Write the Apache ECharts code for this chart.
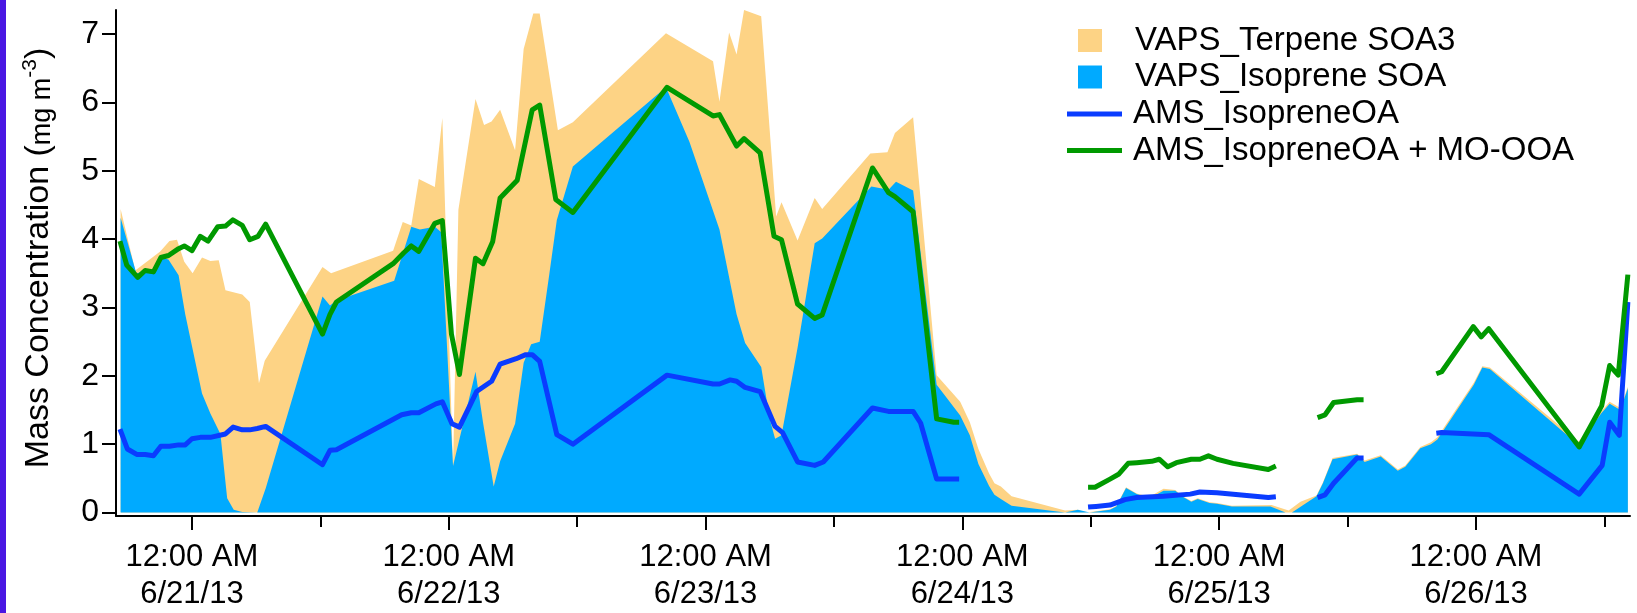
<!DOCTYPE html>
<html><head><meta charset="utf-8">
<script src="https://cdn.jsdelivr.net/npm/echarts@6/dist/echarts.min.js"></script>
<style>html,body{margin:0;padding:0;background:#fff}#chart{width:1637px;height:613px}</style>
</head><body><div id="chart"></div>
<script>
// time: hours since 6/21/13 12:00 AM
const vapsTotalTime = [-6.67,-5.3,-2.97,-2.1,-1.4,-0.72,0.06,0.94,1.72,2.5,3.13,4.7,5.4,6.26,6.8,12.2,13.0,18.8,19.7,20.5,21.2,22.7,23.4,24.4,24.9,26.5,27.3,28.0,28.8,30.2,31.0,31.9,32.5,34.2,35.6,44.3,48.7,49.3,50.2,50.9,51.6,53.2,54.6,55.1,56.6,58.2,58.9,63.4,65.0,65.7,67.4,69.6,71.8,72.7,73.5,74.5,75.0,75.6,76.6,81.6,82.8,83.6,85.8,86.4,87.3,88.3,89.5,90.8,91.9,92.6,93.4,94.0,95.1,95.8,97.2,100.9,102.5,103.6,105.1,105.7,106.6,108.9,109.6,111.1,112.7,113.4,114.8,115.8,116.4,119.8,120.6,121.3,129.6,131.7,132.5,133.5,134.2];
// top of the stacked VAPS areas (Isoprene SOA + Terpene SOA3)
const vapsTotal = [4.44,3.54,3.82,3.97,3.99,3.67,3.5,3.73,3.68,3.69,3.25,3.19,3.08,1.89,2.22,3.59,3.5,3.83,4.25,4.2,4.88,4.76,5.77,0.66,4.43,6.05,5.67,5.72,5.89,5.3,6.78,7.3,7.3,5.59,5.71,7.01,6.6,6.01,7.02,6.7,7.35,7.26,4.33,4.54,3.98,4.6,4.44,5.25,5.27,5.55,5.78,2.01,1.62,1.32,0.93,0.57,0.43,0.38,0.24,0.03,0.04,0.0,0.05,0.1,0.37,0.28,0.23,0.35,0.33,0.24,0.17,0.21,0.15,0.14,0.1,0.11,0.03,0.16,0.25,0.44,0.8,0.86,0.76,0.84,0.63,0.69,0.96,1.03,1.1,1.9,2.14,2.12,1.04,1.48,1.62,1.53,1.84];

const isopreneTime = [-6.67,-5.2,-3.6,-2.9,-2.2,-1.25,-0.63,0.94,1.72,2.66,3.29,3.9,4.7,6.1,6.9,12.2,12.9,13.5,18.9,20.5,21.3,22.7,23.3,24.4,26.5,27.2,28.2,28.8,30.2,31.0,31.7,32.5,33.4,34.1,35.6,44.3,46.5,49.3,50.9,51.7,53.2,54.0,54.5,55.1,56.6,58.2,58.9,63.5,65.1,65.8,67.4,69.6,71.8,72.7,73.5,74.5,75.0,75.6,76.6,81.6,82.8,83.9,85.8,86.4,87.3,88.3,89.5,90.8,91.9,92.6,93.4,94.0,95.1,95.8,97.2,100.8,102.2,102.8,105.1,105.7,106.6,108.9,109.6,111.1,112.7,113.4,114.8,115.8,116.4,119.8,120.6,121.3,129.6,131.7,132.5,133.5,134.2];
const isopreneSOA = [4.31,3.5,3.55,3.73,3.7,3.47,2.9,1.74,1.45,1.15,0.21,0.04,0.01,0.0,0.36,3.16,3.03,3.1,3.39,4.18,4.14,4.18,4.1,0.68,2.06,1.32,0.38,0.75,1.3,2.19,2.46,2.5,3.49,4.28,5.06,6.22,5.42,4.14,2.9,2.48,2.13,1.37,1.08,1.13,2.41,3.94,4.01,4.77,4.72,4.84,4.71,1.87,1.42,1.13,0.71,0.39,0.26,0.2,0.1,0.0,0.04,0.0,0.04,0.09,0.36,0.27,0.21,0.32,0.32,0.23,0.16,0.2,0.14,0.13,0.09,0.09,0.0,0.0,0.24,0.43,0.78,0.85,0.74,0.82,0.61,0.67,0.94,1.0,1.07,1.87,2.12,2.1,0.99,1.45,1.59,1.5,1.82];

const amsTime = [-6.73,-6.04,-5.16,-4.38,-3.6,-2.91,-2.1,-1.25,-0.63,0,0.78,1.72,3.13,3.85,4.7,5.4,6.1,6.89,12.2,12.9,13.5,19.6,20.5,21.2,22.8,23.4,24.3,25.0,26.6,28.0,28.8,30.3,31.2,31.8,32.5,34.1,35.6,44.4,48.7,49.3,50.3,50.9,51.7,53.1,54.5,55.2,56.6,58.2,59.0,63.6,65.1,67.4,68.1,69.6,71.7,77,83.75,84.5,85.8,87.2,88.3,90.8,93.3,94.2,95.8,100.6,101.3,103,105.2,105.9,106.7,108.9,109.5,113,116.3,116.8,121.2,129.65,131.8,132.5,133.4,134.2];
const amsIsopreneOA = [1.22,0.93,0.85,0.85,0.83,0.97,0.97,0.99,0.99,1.08,1.1,1.1,1.15,1.25,1.21,1.21,1.23,1.26,0.7,0.91,0.92,1.43,1.46,1.46,1.59,1.62,1.3,1.25,1.77,1.92,2.17,2.25,2.31,2.31,2.21,1.14,1.0,2.01,1.88,1.88,1.94,1.92,1.83,1.77,1.26,1.17,0.74,0.69,0.74,1.53,1.48,1.48,1.31,0.49,0.49,null,0.08,0.09,0.11,0.19,0.22,0.24,0.27,0.3,0.29,0.22,0.23,null,0.22,0.26,0.43,0.8,0.8,null,1.16,1.17,1.14,0.27,0.69,1.32,1.13,3.08];

const amsMoTime = [-6.73,-6.1,-5.07,-4.38,-3.6,-2.91,-2.19,-1.25,-0.72,0,0.78,1.5,2.41,3.13,3.82,4.7,5.4,6.17,6.89,12.2,12.9,13.5,18.8,19.8,20.5,21.2,22.7,23.4,24.25,25.0,26.5,27.2,28.1,28.8,30.4,31.8,32.5,34.0,35.6,44.4,48.7,49.3,50.9,51.6,53.1,54.4,55.1,56.6,58.2,58.9,63.6,65.1,65.7,67.4,69.6,71.2,71.7,77,83.75,84.4,85.8,86.6,87.5,88.3,89.7,90.4,91.2,92.0,93.4,94.2,95.0,95.8,97.3,100.6,101.3,103,105.2,105.9,106.7,108.9,109.5,113,116.3,116.8,119.75,120.5,121.2,129.65,131.75,132.5,133.3,134.2];
const amsPlusMoOOA = [3.97,3.62,3.44,3.54,3.52,3.73,3.76,3.86,3.9,3.83,4.04,3.97,4.18,4.19,4.28,4.2,3.99,4.04,4.22,2.61,2.9,3.08,3.64,3.8,3.9,3.82,4.23,4.27,2.61,2.02,3.72,3.64,3.96,4.6,4.86,5.89,5.96,4.58,4.39,6.22,5.8,5.82,5.36,5.47,5.26,4.04,3.99,3.05,2.84,2.89,5.04,4.68,4.62,4.4,1.37,1.32,1.32,null,0.37,0.37,0.49,0.56,0.72,0.73,0.75,0.78,0.67,0.73,0.78,0.78,0.83,0.78,0.72,0.63,0.68,null,1.39,1.43,1.61,1.65,1.65,null,2.03,2.06,2.72,2.57,2.69,0.96,1.56,2.15,2.01,3.48];

const xLabelHours = [0,24,48,72,96,120];
const xLabelText = ['12:00 AM\n6/21/13','12:00 AM\n6/22/13','12:00 AM\n6/23/13','12:00 AM\n6/24/13','12:00 AM\n6/25/13','12:00 AM\n6/26/13'];
const xNoonHours = [12,36,60,84,108,132];
const yTicks = [0,1,2,3,4,5,6,7];

const seriesNames = ['VAPS_Terpene SOA3','VAPS_Isoprene SOA','AMS_IsopreneOA','AMS_IsopreneOA + MO-OOA'];
const colors = {terp:'#FDD385', iso:'#00AAFF', ams:'#0A3CFF', mo:'#009900'};

const FONT = '"Liberation Sans", Arial, Helvetica, sans-serif';
const zip = (t, v) => t.map((x, i) => [x, v[i]]);

const chart = echarts.init(document.getElementById('chart'), null, {renderer:'canvas'});
const xMin = -7.1, xMax = 134.4;

const legendY = [40.5, 77, 114, 150.5];
const graphic = [
  {type:'rect', shape:{x:0,y:0,width:6,height:613}, style:{fill:'#4A17E3'}},
  {type:'text', x:38, y:258, rotation:Math.PI/2,
    style:{text:'{a|Mass Concentration (}{b|mg m}{c|-3}{a|)}', align:'center', verticalAlign:'middle',
      rich:{a:{fontSize:34, fontFamily:FONT, fill:'#000', lineHeight:36, verticalAlign:'bottom'},
            b:{fontSize:27, fontFamily:FONT, fill:'#000', lineHeight:30, verticalAlign:'bottom'},
            c:{fontSize:21, fontFamily:FONT, fill:'#000', lineHeight:21, verticalAlign:'top'}}}},
  {type:'rect', shape:{x:1078,y:legendY[0]-11.5,width:24,height:23}, style:{fill:colors.terp}},
  {type:'rect', shape:{x:1078,y:legendY[1]-11.5,width:24,height:23}, style:{fill:colors.iso}},
  {type:'line', shape:{x1:1067,y1:legendY[2],x2:1122,y2:legendY[2]}, style:{stroke:colors.ams, lineWidth:5}},
  {type:'line', shape:{x1:1067,y1:legendY[3],x2:1122,y2:legendY[3]}, style:{stroke:colors.mo, lineWidth:5}},
];
seriesNames.forEach((n, i) => {
  graphic.push({type:'text', x: i < 2 ? 1135 : 1133, y: legendY[i],
    style:{text:n, fontSize:33, fontFamily:FONT, fill:'#000', verticalAlign:'middle', align:'left'}});
});

const option = {
  animation:false,
  backgroundColor:'#fff',
  grid:{left:116, right:7, top:10, bottom:96.4, containLabel:false},
  xAxis:[{
    type:'value', min:xMin, max:xMax, position:'bottom',
    axisLine:{show:true, onZero:false, lineStyle:{color:'#000', width:2}},
    axisTick:{show:true, length:14, lineStyle:{color:'#000', width:2}, customValues:xLabelHours},
    axisLabel:{show:true, customValues:xLabelHours, margin:23, fontSize:31, lineHeight:37, color:'#000', fontFamily:FONT, align:'center',
      formatter:(v) => { const i = xLabelHours.indexOf(Math.round(v)); return i >= 0 ? xLabelText[i] : ''; }},
    splitLine:{show:false}
  },{
    type:'value', min:xMin, max:xMax, position:'bottom',
    axisLine:{show:false, onZero:false},
    axisTick:{show:true, length:11, lineStyle:{color:'#000', width:2}, customValues:xNoonHours},
    axisLabel:{show:false},
    splitLine:{show:false}
  }],
  yAxis:{
    type:'value', min:-0.05, max:7.35,
    axisLine:{show:true, onZero:false, lineStyle:{color:'#000', width:2}},
    axisTick:{show:true, length:14, lineStyle:{color:'#000', width:2}, customValues:yTicks},
    axisLabel:{show:true, customValues:yTicks, margin:17, fontSize:32, color:'#000', fontFamily:FONT},
    splitLine:{show:false}
  },
  graphic: graphic,
  series:[
    {name:seriesNames[0], type:'line', data:zip(vapsTotalTime, vapsTotal), symbol:'none', showSymbol:false,
     lineStyle:{width:0, opacity:0}, areaStyle:{color:colors.terp, opacity:1}, z:1, silent:true},
    {name:seriesNames[1], type:'line', data:zip(isopreneTime, isopreneSOA), symbol:'none', showSymbol:false,
     lineStyle:{width:0, opacity:0}, areaStyle:{color:colors.iso, opacity:1}, z:2, silent:true},
    {name:seriesNames[2], type:'line', data:zip(amsTime, amsIsopreneOA), symbol:'none', showSymbol:false, connectNulls:false,
     lineStyle:{width:5, color:colors.ams, join:'round'}, z:3, silent:true},
    {name:seriesNames[3], type:'line', data:zip(amsMoTime, amsPlusMoOOA), symbol:'none', showSymbol:false, connectNulls:false,
     lineStyle:{width:5, color:colors.mo, join:'round'}, z:4, silent:true}
  ]
};
chart.setOption(option);
</script></body></html>
